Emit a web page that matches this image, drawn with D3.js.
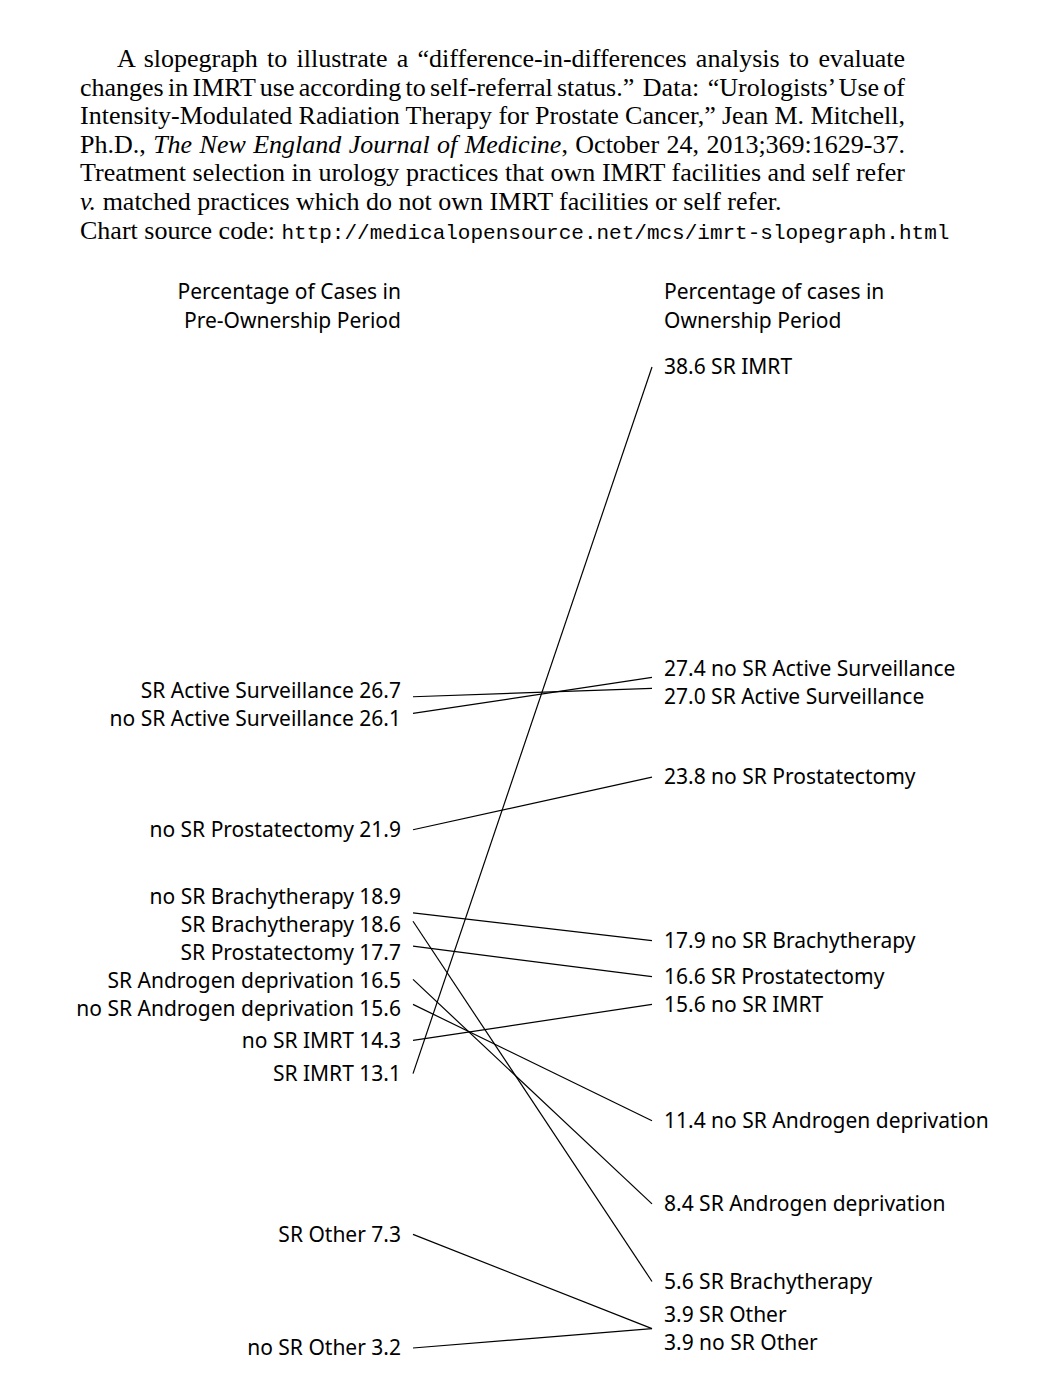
<!DOCTYPE html>
<html>
<head>
<meta charset="utf-8">
<script src="https://cdn.jsdelivr.net/npm/d3@7"></script>
<style>
  body { margin: 0; background: #fff; }
  svg { display: block; }
</style>
</head>
<body>
<svg width="1058" height="1394"></svg>
<script>
// treatments and the four columns of percentages (NEJM 2013;369:1629-37)
const treatments = ["IMRT", "Active Surveillance", "Prostatectomy", "Brachytherapy", "Androgen deprivation", "Other"];
const srPre = [13.1, 26.7, 17.7, 18.6, 16.5, 7.3];
const srPost = [38.6, 27.0, 16.6, 5.6, 8.4, 3.9];
const noSrPre = [14.3, 26.1, 21.9, 18.9, 15.6, 3.2];
const noSrPost = [15.6, 27.4, 23.8, 17.9, 11.4, 3.9];
const groups = ["SR", "no SR"];
const periods = ["Percentage of Cases in|Pre-Ownership Period", "Percentage of cases in|Ownership Period"];

const caption = [
    "A slopegraph to illustrate a \u201cdifference-in-differences analysis to evaluate",
    "changes in IMRT use according to self-referral status.\u201d  Data:  \u201cUrologists\u2019 Use of",
    "Intensity-Modulated Radiation Therapy for Prostate Cancer,\u201d Jean M. Mitchell,",
    "Ph.D., <i>The New England Journal of Medicine</i>, October 24, 2013;369:1629-37.",
    "Treatment selection in urology practices that own IMRT facilities and self refer",
    "<i>v.</i> matched practices which do not own IMRT facilities or self refer."
];

(() => {
    let svg = d3.select("svg");

    // rows: one per group+treatment
    let rows = [];
    groups.forEach((g, gi) => treatments.forEach((t, i) => {
        rows.push({
            group: g, name: t,
            pre: gi === 0 ? srPre[i] : noSrPre[i],
            post: gi === 0 ? srPost[i] : noSrPost[i]
        });
    }));

    let all = rows.flatMap(d => [d.pre, d.post]);
    let y = d3.scaleLinear().domain(d3.extent(all)).range([1348, 367]);
    let x = d3.scalePoint().domain(["pre", "post"]).range([413, 652]);

    // caption, justified line by line (word spacing) like the LaTeX original
    let cap = svg.append("g")
        .attr("font-family", "'Liberation Serif', 'Times New Roman', serif")
        .attr("font-size", 26)
        .attr("fill", "#000");
    caption.forEach((line, i) => {
        let x0 = i === 0 ? 117 : 80;
        let t = cap.append("text")
            .attr("x", x0)
            .attr("y", 67 + i * 28.6)
            .style("white-space", "pre");
        line.split(/(<i>.*?<\/i>)/).forEach(part => {
            if (!part) return;
            let it = part.startsWith("<i>");
            t.append("tspan")
                .attr("font-style", it ? "italic" : null)
                .text(part.replace(/<\/?i>/g, ""));
        });
        if (i < 5) {
            let w = t.node().getComputedTextLength();
            let spaces = (line.replace(/<\/?i>/g, "").match(/ /g) || []).length;
            t.attr("word-spacing", (905 - x0 - w) / spaces);
        }
    });
    let src = cap.append("text").attr("x", 80).attr("y", 67 + 6 * 28.6);
    src.append("tspan").text("Chart source code: ");
    src.append("tspan")
        .attr("font-family", "'Liberation Mono', 'DejaVu Sans Mono', monospace")
        .attr("font-size", 21)
        .text("http://medicalopensource.net/mcs/imrt-slopegraph.html");

    const fontSans = "'Noto Sans', 'DejaVu Sans', sans-serif";

    // column headers
    let heads = svg.append("g")
        .attr("font-family", "'Liberation Sans Narrow', 'Noto Sans', sans-serif")
        .attr("font-size", 21);
    periods.forEach((p, i) => {
        p.split("|").forEach((l, j) => {
            heads.append("text")
                .attr("x", i === 0 ? x("pre") - 12 : x("post") + 12)
                .attr("y", 292 + j * 29)
                .attr("dy", "0.35em")
                .attr("text-anchor", i === 0 ? "end" : "start")
                .text(l);
        });
    });

    // slope lines
    svg.append("g")
        .selectAll("line")
        .data(rows)
        .join("line")
        .attr("x1", x("pre"))
        .attr("x2", x("post"))
        .attr("y1", d => y(d.pre))
        .attr("y2", d => y(d.post))
        .attr("stroke", "#000")
        .attr("stroke-width", 1.2);

    // spread labels that would overlap
    let spread = (items, gap) => {
        items.sort((a, b) => a.y - b.y);
        for (let k = 0; k < 300; k++) {
            for (let i = 1; i < items.length; i++) {
                let d = items[i].y - items[i - 1].y;
                if (d < gap) {
                    let m = (gap - d) / 2;
                    items[i - 1].y -= m;
                    items[i].y += m;
                }
            }
        }
        return items;
    };

    let leftLabels = spread(rows.map(d => ({ y: y(d.pre), text: `${d.group} ${d.name} ${d.pre.toFixed(1)}` })), 28);
    let rightLabels = spread(rows.map(d => ({ y: y(d.post), text: `${d.post.toFixed(1)} ${d.group} ${d.name}` })), 28);

    let lab = svg.append("g")
        .attr("font-family", fontSans)
        .attr("font-size", 21);
    lab.selectAll(".left")
        .data(leftLabels)
        .join("text")
        .attr("class", "left")
        .attr("x", x("pre") - 12)
        .attr("y", d => d.y)
        .attr("dy", "0.35em")
        .attr("text-anchor", "end")
        .text(d => d.text);
    lab.selectAll(".right")
        .data(rightLabels)
        .join("text")
        .attr("class", "right")
        .attr("x", x("post") + 12)
        .attr("y", d => d.y)
        .attr("dy", "0.35em")
        .text(d => d.text);
})();
</script>
</body>
</html>
